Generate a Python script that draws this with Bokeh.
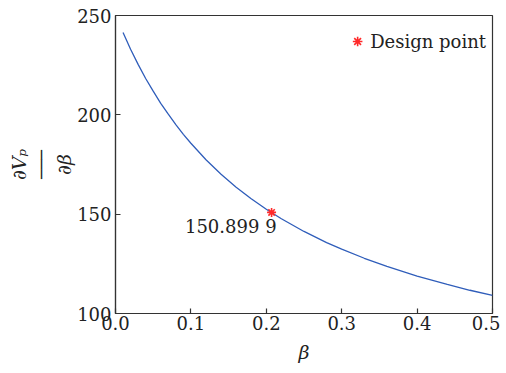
from bokeh.plotting import figure
from bokeh.models import Range1d, FixedTicker, Title
from bokeh.core.properties import value
from bokeh.embed import file_html
from bokeh.resources import INLINE

# curve data
beta = [0.01, 0.02, 0.03, 0.04, 0.05, 0.06, 0.07, 0.08, 0.09, 0.10, 0.12, 0.14,
        0.16, 0.18, 0.20, 0.22, 0.25, 0.28, 0.30, 0.33, 0.36, 0.40, 0.44, 0.47, 0.50]
dvp = [241.4, 233.0, 225.4, 218.3, 211.9, 205.8, 200.3, 195.1, 190.2, 185.7, 177.4, 170.1,
       163.6, 157.8, 152.5, 147.7, 141.3, 135.7, 132.4, 127.8, 123.7, 118.8, 114.6, 111.7, 109.1]

design_beta = [0.207]
design_val = [150.8999]
design_text = ["150.899 9"]

x_ticks = [0.0, 0.1, 0.2, 0.3, 0.4, 0.5]
x_tick_labels = ["0.0", "0.1", "0.2", "0.3", "0.4", "0.5"]
y_ticks = [100, 150, 200, 250]
y_tick_labels = ["100", "150", "200", "250"]

FONT = "DejaVu Serif"
TXT = "#222222"

p = figure(width=500, height=365, output_backend="svg", toolbar_location=None,
           x_range=Range1d(0, 0.5), y_range=Range1d(100, 250),
           min_border_left=115, min_border_right=8, min_border_top=15, min_border_bottom=49)
p.grid.visible = False
p.outline_line_color = "#333333"
p.outline_line_width = 1.2
p.background_fill_color = "white"
p.border_fill_color = "white"

for ax in (p.xaxis[0], p.yaxis[0]):
    ax.major_tick_in = 5
    ax.major_tick_out = 0
    ax.minor_tick_line_color = None
    ax.axis_line_color = "#333333"
    ax.axis_line_width = 1.2
    ax.major_tick_line_color = "#333333"
    ax.major_tick_line_width = 1.2
    ax.major_label_text_font = FONT
    ax.major_label_text_font_size = "18px"
    ax.major_label_text_color = TXT

p.xaxis.ticker = FixedTicker(ticks=x_ticks)
p.xaxis.major_label_overrides = {t: l for t, l in zip(x_ticks, x_tick_labels)}
p.yaxis.ticker = FixedTicker(ticks=y_ticks)
p.yaxis.major_label_overrides = {t: l for t, l in zip(y_ticks, y_tick_labels)}
p.xaxis.major_label_standoff = 2
p.yaxis.major_label_standoff = 4

p.xaxis.axis_label = "β"
p.xaxis.axis_label_text_font = FONT
p.xaxis.axis_label_text_font_style = "italic"
p.xaxis.axis_label_text_font_size = "19px"
p.xaxis.axis_label_text_color = TXT
p.xaxis.axis_label_standoff = 8

p.line(beta, dvp, line_color="#2f5dba", line_width=1.3)
p.scatter(design_beta, design_val, marker="asterisk", size=9, line_color="#ff2a2a",
          line_width=1.6, legend_label="Design point")
p.text(design_beta, design_val, text=design_text, text_font=value(FONT),
       text_font_size="18px", text_align="right", text_baseline="top",
       x_offset=5, y_offset=4, text_color=TXT)

p.legend.location = "top_right"
p.legend.border_line_color = None
p.legend.background_fill_alpha = 0
p.legend.label_text_font = FONT
p.legend.label_text_font_size = "18px"
p.legend.label_text_color = TXT
p.legend.margin = 6
p.legend.padding = 7
p.legend.glyph_width = 24
p.legend.glyph_height = 40
p.legend.label_standoff = 1

# y-axis label as a rotated fraction: dV_p / d(beta), built from side titles (inner -> outer)
def side(text, size, off, style="italic", font=FONT):
    p.add_layout(Title(text=text, align="center", text_font=font, text_font_size=size,
                       text_font_style=style, text_color=TXT, standoff=0, offset=off), "left")

side("∂β", "19px", -5)
side("───", "16px", -3, "normal", "DejaVu Sans Mono")
side("∂Vₚ", "19px", -3)

open("out.html", "w").write(file_html(p, INLINE))
